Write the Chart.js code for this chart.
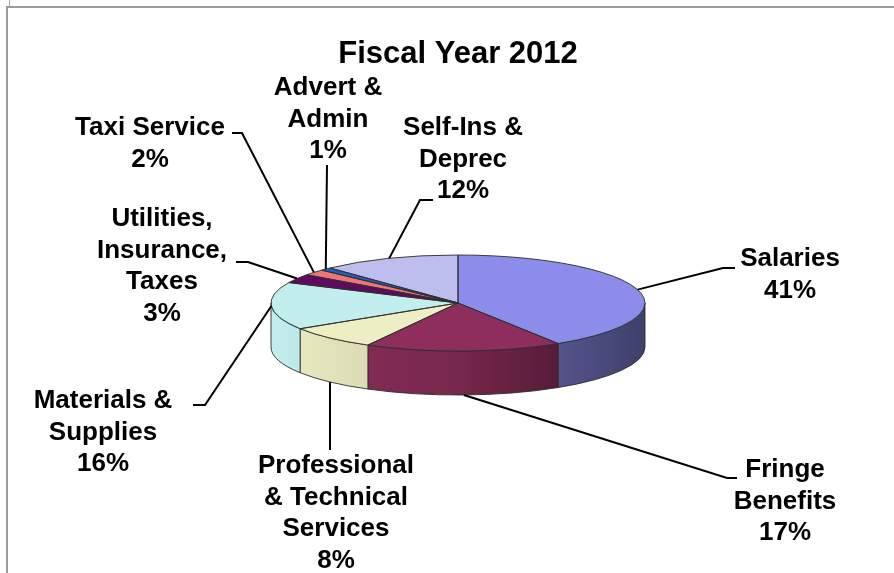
<!DOCTYPE html>
<html>
<head>
<meta charset="utf-8">
<title>Fiscal Year 2012</title>
<script src="https://cdn.jsdelivr.net/npm/chart.js@4.4.1/dist/chart.umd.min.js"></script>
<style>
  html, body { margin: 0; padding: 0; background: #fff; }
  #wrap { position: relative; width: 894px; height: 573px; overflow: hidden; background: #fff; }
  #wrap canvas { position: absolute; left: 0; top: 0; }
  .frame-top { position: absolute; left: 6px; top: 6px; width: 888px; height: 0; border-top: 2px solid #9c9c9c; }
  .frame-left { position: absolute; left: 6px; top: 7px; width: 0; height: 566px; border-left: 2px solid #9c9c9c; }
  .frame-stub { position: absolute; left: 9px; top: 0; width: 0; height: 6px; border-left: 1px solid #a8a8a8; }
</style>
</head>
<body>
<div id="wrap">
  <canvas id="chart" width="894" height="573"></canvas>
  <div class="frame-stub"></div>
  <div class="frame-top"></div>
  <div class="frame-left"></div>
</div>
<script>
// Budget shares, fiscal year 2012 (percent of total)
const chartTitle = 'Fiscal Year 2012';
const categories = [
  ['Salaries'],
  ['Fringe', 'Benefits'],
  ['Professional', '& Technical', 'Services'],
  ['Materials &', 'Supplies'],
  ['Utilities,', 'Insurance,', 'Taxes'],
  ['Taxi Service'],
  ['Advert &', 'Admin'],
  ['Self-Ins &', 'Deprec']
];
const shares = [41, 17, 8, 16, 3, 2, 1, 12];
const sliceColors = ['#8c8ceb', '#8e2e5c', '#eeeec4', '#c2eeee', '#5e0a5e', '#f07474', '#1f5fbf', '#bebeee'];

// Where each label sits: text centre x, centre y of its first line,
// the bend of its leader line, the end of the short horizontal stub,
// and whether the leader starts at the bottom of the rim.
const labelLayout = [
  { x: 790, y: 259, elbow: [723, 268], stub: [735, 268], rim: false },
  { x: 785, y: 470, elbow: [727, 478], stub: [737, 478], rim: true },
  { x: 336, y: 466, elbow: [330, 450], stub: null,       rim: true },
  { x: 103, y: 401, elbow: [205, 405], stub: [193, 405], rim: false },
  { x: 162, y: 219, elbow: [248, 262], stub: [236, 262], rim: false },
  { x: 150, y: 128, elbow: [242, 133], stub: [232, 133], rim: false },
  { x: 328, y: 88,  elbow: [327, 165], stub: null,       rim: false },
  { x: 463, y: 128, elbow: [420, 200], stub: [433, 200], rim: false }
];

const FONT = '"Liberation Sans", Arial, Helvetica, sans-serif';

function hexToRgb(hex) {
  const n = parseInt(hex.slice(1), 16);
  return [(n >> 16) & 255, (n >> 8) & 255, n & 255];
}
function shade(hex, f) {
  const [r, g, b] = hexToRgb(hex);
  return `rgb(${Math.round(r * f)},${Math.round(g * f)},${Math.round(b * f)})`;
}
// Rim lighting: bright on the left, falling into shadow on the right
function rimFill(ctx, cx, r, hex) {
  const g = ctx.createLinearGradient(cx - r, 0, cx + r, 0);
  g.addColorStop(0, shade(hex, 1.0));
  g.addColorStop(0.5, shade(hex, 0.84));
  g.addColorStop(0.76, shade(hex, 0.61));
  g.addColorStop(1, shade(hex, 0.45));
  return g;
}

function geometry(chart, opts) {
  const arcs = chart.getDatasetMeta(0).data;
  if (!arcs.length) return null;
  const first = arcs[0];
  const r = first.outerRadius;
  return { arcs, cx: first.x, cy: first.y, r, ry: r * opts.tilt, top: opts.centerY, depth: opts.depth };
}

// Tilted pie: draws the front rim, then lets the library paint the slices
// onto a vertically squashed canvas, then outlines the top face.
const pie3d = {
  id: 'pie3d',
  beforeDatasetsDraw(chart, args, opts) {
    const g = geometry(chart, opts);
    if (!g) return;
    const ctx = chart.ctx;
    g.arcs.forEach((arc, i) => {
      const s = Math.max(arc.startAngle, 0);
      const e = Math.min(arc.endAngle, Math.PI);
      if (e <= s) return;
      ctx.beginPath();
      ctx.ellipse(g.cx, g.top, g.r, g.ry, 0, s, e);
      ctx.ellipse(g.cx, g.top + g.depth, g.r, g.ry, 0, e, s, true);
      ctx.closePath();
      ctx.fillStyle = rimFill(ctx, g.cx, g.r, sliceColors[i]);
      ctx.fill();
      ctx.lineWidth = 1;
      ctx.strokeStyle = opts.edgeColor;
      ctx.stroke();
    });
    ctx.save();
    ctx.translate(0, g.top);
    ctx.scale(1, g.ry / g.r);
    ctx.translate(0, -g.cy);
  },
  afterDatasetsDraw(chart, args, opts) {
    const ctx = chart.ctx;
    ctx.restore();
    const g = geometry(chart, opts);
    if (!g) return;
    ctx.lineWidth = 1;
    ctx.strokeStyle = opts.edgeColor;
    g.arcs.forEach(arc => {
      ctx.beginPath();
      ctx.moveTo(g.cx, g.top);
      ctx.ellipse(g.cx, g.top, g.r, g.ry, 0, arc.startAngle, arc.endAngle);
      ctx.closePath();
      ctx.stroke();
    });
  }
};

// Category name and share beside each slice, tied to it by a leader line
const pieLabels = {
  id: 'pieLabels',
  afterDraw(chart, args, opts) {
    const g = geometry(chart, chart.options.plugins.pie3d);
    if (!g) return;
    const ctx = chart.ctx;
    ctx.save();
    ctx.strokeStyle = '#000';
    ctx.lineWidth = 2;
    g.arcs.forEach((arc, i) => {
      const L = labelLayout[i];
      const mid = (arc.startAngle + arc.endAngle) / 2;
      const px = g.cx + g.r * Math.cos(mid);
      const py = g.top + g.ry * Math.sin(mid) + (L.rim ? g.depth : 0);
      ctx.beginPath();
      ctx.moveTo(px, py);
      ctx.lineTo(L.elbow[0], L.elbow[1]);
      if (L.stub) ctx.lineTo(L.stub[0], L.stub[1]);
      ctx.stroke();
    });
    ctx.fillStyle = '#000';
    ctx.font = `bold ${opts.size}px ${FONT}`;
    ctx.textAlign = 'center';
    ctx.textBaseline = 'middle';
    const labels = chart.data.labels;
    const values = chart.data.datasets[0].data;
    labels.forEach((name, i) => {
      const L = labelLayout[i];
      const lines = [...name, values[i] + '%'];
      lines.forEach((t, j) => ctx.fillText(t, L.x, L.y + j * opts.lineHeight));
    });
    ctx.restore();
  }
};

new Chart(document.getElementById('chart'), {
  type: 'pie',
  data: {
    labels: categories,
    datasets: [{
      data: shares,
      backgroundColor: sliceColors,
      borderWidth: 0,
      offset: 0,
      hoverOffset: 0
    }]
  },
  options: {
    responsive: false,
    animation: false,
    events: [],
    layout: { padding: { left: 271, right: 249, top: 0, bottom: 0 } },
    plugins: {
      legend: { display: false },
      tooltip: { enabled: false },
      title: {
        display: true,
        text: chartTitle,
        color: '#000',
        font: { family: FONT, size: 31, weight: 'bold' },
        padding: { top: 36, bottom: 0 }
      },
      pie3d: { centerY: 303, tilt: 48 / 187, depth: 44, edgeColor: 'rgba(45,45,45,0.9)' },
      pieLabels: { size: 26, lineHeight: 31.5 }
    }
  },
  plugins: [pie3d, pieLabels]
});
</script>
</body>
</html>
